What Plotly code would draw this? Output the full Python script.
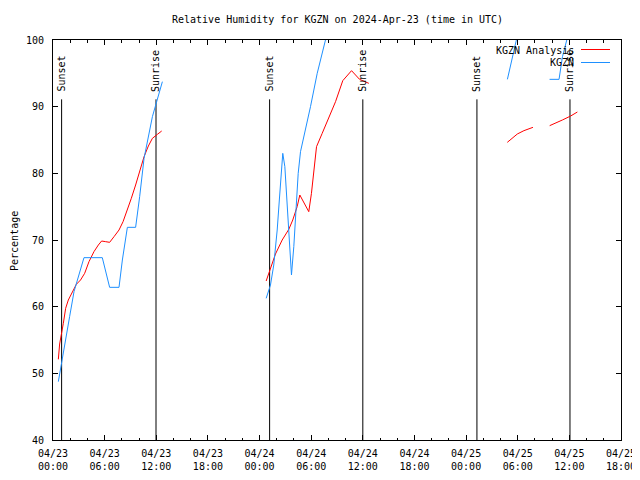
import plotly.graph_objects as go
import pandas as pd

BASE = pd.Timestamp("2024-04-23 00:00")

# KGZN Analysis (red) -- hours since 04/23 00:00 UTC, None = gap
analysis_hours = [0.62, 0.77, 1.2, 1.47, 1.78, 2.24, 2.71, 3.2, 3.68, 4.18, 4.76, 5.27, 5.65, 6.12,
                  6.58, 7.09, 7.67, 8.14, 8.64, 9.1, 9.6, 10.07, 10.58, 11.08, 11.55, 12.13, 12.63,
                  None,
                  24.77, 25.27, 25.85, 26.63, 27.4, 27.86, 28.37, 28.68, 29.72, 30.03, 30.3, 30.62,
                  31.28, 32.05, 32.83, 33.67, 34.69, 35.62, 36.7,
                  None,
                  52.79, 53.37, 53.95, 54.72, 55.77,
                  None,
                  57.71, 58.4, 59.19, 60.15, 60.93]
analysis_rh = [52.1, 54.4, 57.5, 59.75, 61.0, 62.2, 63.35, 64.0, 65.0, 66.75, 68.25, 69.25, 69.85, 69.75,
               69.65, 70.5, 71.5, 72.75, 74.5, 76.25, 78.25, 80.25, 82.5, 84.1, 85.25, 85.85, 86.35,
               None,
               63.85, 65.75, 67.9, 70.0, 71.6, 73.0, 75.0, 76.75, 74.25, 77.0, 80.5, 84.0,
               86.0, 88.25, 90.75, 93.9, 95.4, 94.1, 93.5,
               None,
               84.65, 85.25, 85.9, 86.4, 86.9,
               None,
               87.15, 87.5, 88.0, 88.6, 89.2]

# KGZN observations (blue)
obs_hours = [0.62, 1.0, 1.47, 1.93, 2.44, 3.02, 3.6, 5.73, 6.12, 6.58, 7.67, 8.06, 8.64, 9.6,
             10.07, 10.58, 11.55, 12.24, 12.71,
             None,
             24.77, 25.27, 25.65, 26.05, 26.3, 26.55, 26.7, 26.94, 27.2, 27.48, 27.71, 27.98,
             28.26, 28.49, 28.76, 29.34, 29.92, 30.7, 31.66,
             None,
             52.8, 53.84,
             None,
             57.7, 58.8, 59.2, 59.7]
obs_rh = [48.75, 51.75, 55.0, 58.5, 62.25, 65.0, 67.35, 67.35, 65.5, 62.9, 62.9, 67.0, 71.9, 71.9,
          76.5, 82.25, 88.5, 91.75, 93.75,
          None,
          61.25, 63.25, 66.25, 71.5, 76.0, 80.0, 83.0, 81.0, 75.5, 71.0, 64.75, 69.0,
          74.5, 80.0, 83.25, 86.5, 90.0, 95.0, 100.0,
          None,
          94.1, 100.0,
          None,
          94.1, 94.1, 97.5, 100.0]

# Sun events
sun_hours = [1.0, 11.97, 25.17, 36.0, 49.26, 60.07]
sun_labels = ["Sunset", "Sunrise", "Sunset", "Sunrise", "Sunset", "Sunrise"]
sun_line_top = 91.1

tick_hours = [0, 6, 12, 18, 24, 30, 36, 42, 48, 54, 60, 66]
tick_labels = ["04/23<br>00:00", "04/23<br>06:00", "04/23<br>12:00", "04/23<br>18:00",
               "04/24<br>00:00", "04/24<br>06:00", "04/24<br>12:00", "04/24<br>18:00",
               "04/25<br>00:00", "04/25<br>06:00", "04/25<br>12:00", "04/25<br>18:00"]
minor_hours = list(range(0, 67, 2))


def to_time(hours):
    return [None if h is None else BASE + pd.Timedelta(hours=h) for h in hours]


FONT = "DejaVu Sans Mono"
RED = "#ff0000"
BLUE = "#1e90ff"

# page offset of the figure (browser body margin)
OFF = 8
FIG_W, FIG_H = 640 - OFF, 480 - OFF
# plot area in screen pixels
X0, X1, Y0, Y1 = 53, 621, 40, 440
L, R, T, B = X0 - OFF, OFF + FIG_W - X1, Y0 - OFF, OFF + FIG_H - Y1
PW, PH = X1 - X0, Y1 - Y0


def px(xp):
    return (xp - X0) / PW


def py(yp):
    return (Y1 - yp) / PH


fig = go.Figure()

# Sun lines
for h in sun_hours:
    fig.add_trace(go.Scatter(x=to_time([h, h]), y=[40, sun_line_top], mode="lines",
                             line=dict(color="black", width=1), showlegend=False,
                             hoverinfo="skip"))

fig.add_trace(go.Scatter(x=to_time(analysis_hours), y=analysis_rh, mode="lines",
                         line=dict(color=RED, width=1), name="KGZN Analysis",
                         showlegend=False))
fig.add_trace(go.Scatter(x=to_time(obs_hours), y=obs_rh, mode="lines",
                         line=dict(color=BLUE, width=1), name="KGZN",
                         showlegend=False))

annotations = []
for h, lab in zip(sun_hours, sun_labels):
    annotations.append(dict(x=to_time([h])[0], y=91.9, xref="x", yref="y", text=lab,
                            textangle=-90, showarrow=False, xanchor="center", xshift=-1,
                            yanchor="bottom", font=dict(family=FONT, size=10, color="black")))

# Legend (text then sample, gnuplot style)
annotations.append(dict(x=px(576), y=py(50), xref="paper", yref="paper", text="KGZN Analysis",
                        showarrow=False, xanchor="right", yanchor="middle",
                        font=dict(family=FONT, size=10, color="black")))
annotations.append(dict(x=px(576), y=py(62.5), xref="paper", yref="paper", text="KGZN",
                        showarrow=False, xanchor="right", yanchor="middle",
                        font=dict(family=FONT, size=10, color="black")))
shapes = [
    dict(type="line", xref="paper", yref="paper", x0=px(581), x1=px(610), y0=py(49.5), y1=py(49.5),
         line=dict(color=RED, width=1)),
    dict(type="line", xref="paper", yref="paper", x0=px(581), x1=px(610), y0=py(62.5), y1=py(62.5),
         line=dict(color=BLUE, width=1)),
]

# Title and y label
annotations.append(dict(x=px(337), y=py(19), xref="paper", yref="paper",
                        text="Relative Humidity for KGZN on 2024-Apr-23 (time in UTC)",
                        showarrow=False, xanchor="center", yanchor="middle",
                        font=dict(family=FONT, size=10, color="black")))
annotations.append(dict(x=px(15), y=py(241), xref="paper", yref="paper", text="Percentage",
                        textangle=-90, showarrow=False, xanchor="center", yanchor="middle",
                        font=dict(family=FONT, size=10, color="black")))

fig.update_layout(
    width=FIG_W, height=FIG_H,
    margin=dict(l=L, r=R, t=T, b=B, pad=0, autoexpand=False),
    paper_bgcolor="white", plot_bgcolor="white",
    font=dict(family=FONT, size=10, color="black"),
    annotations=annotations, shapes=shapes,
    showlegend=False,
)
fig.update_xaxes(
    type="date", range=[BASE, BASE + pd.Timedelta(hours=66)],
    tickmode="array", tickvals=to_time(tick_hours), ticktext=tick_labels,
    ticks="inside", ticklen=5, tickcolor="black", tickwidth=1,
    showline=True, linecolor="black", linewidth=1, mirror="allticks",
    showgrid=False, zeroline=False, automargin=False,
    minor=dict(tickmode="array", tickvals=to_time(minor_hours), ticks="inside", ticklen=2.5,
               tickcolor="black", tickwidth=1, showgrid=False),
    tickfont=dict(family=FONT, size=10, color="black"),
    ticklabelstandoff=4,
)
fig.update_yaxes(
    range=[40, 100], tickmode="linear", tick0=40, dtick=10,
    ticks="inside", ticklen=5, tickcolor="black", tickwidth=1,
    showline=True, linecolor="black", linewidth=1, mirror="allticks",
    showgrid=False, zeroline=False, automargin=False,
    tickfont=dict(family=FONT, size=10, color="black"),
    ticklabelstandoff=6,
)

fig.write_html("out.html")
